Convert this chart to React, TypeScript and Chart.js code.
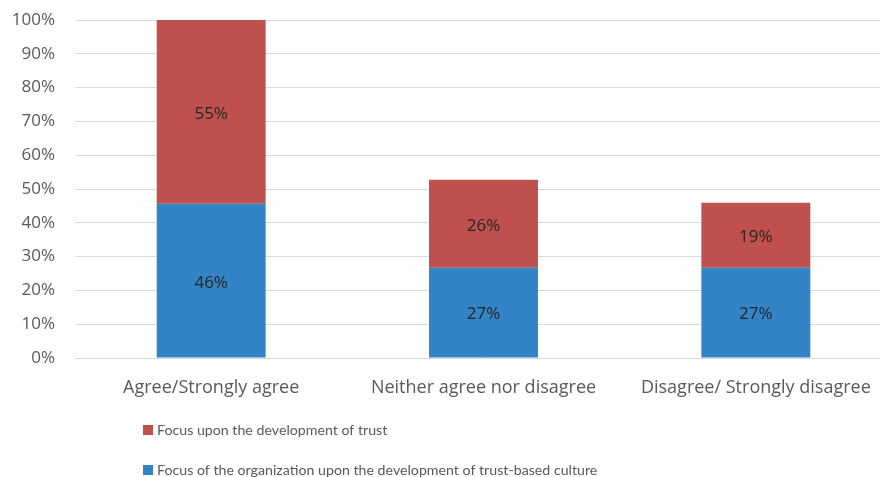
import React, { useEffect, useRef } from "react";
import { Chart, registerables } from "chart.js";

Chart.register(...registerables);

const categories = ["Agree/Strongly agree", "Neither agree nor disagree", "Disagree/ Strongly disagree"];
const cultureValues = [45.6, 26.7, 26.7];
const trustValues = [54.4, 26.0, 19.2];
const cultureLabels = ["46%", "27%", "27%"];
const trustLabels = ["55%", "26%", "19%"];
const yTicks = [0, 10, 20, 30, 40, 50, 60, 70, 80, 90, 100];
const trustName = "Focus upon the development of trust";
const cultureName = "Focus of the organization upon the development of trust-based culture";

const RED = "#C0504D";
const BLUE = "#3284C6";
const FONT = "'Open Sans', sans-serif";
const LEGEND_FONT = "Lato, sans-serif";

const segmentLabels = {
  id: "segmentLabels",
  afterDatasetsDraw(chart: any) {
    const ctx = chart.ctx;
    ctx.save();
    ctx.font = `17px ${FONT}`;
    ctx.fillStyle = "#262626";
    ctx.textAlign = "center";
    ctx.textBaseline = "middle";
    chart.data.datasets.forEach((ds: any, di: number) => {
      const meta = chart.getDatasetMeta(di);
      meta.data.forEach((bar: any, i: number) => {
        const y = (bar.y + bar.base) / 2 + 2;
        ctx.fillText(ds.segmentText[i], bar.x, y);
      });
    });
    ctx.restore();
  },
};

const customLegend = {
  id: "customLegend",
  afterDraw(chart: any) {
    const ctx = chart.ctx;
    ctx.save();
    const items = [
      { name: trustName, color: RED, y: 430 },
      { name: cultureName, color: BLUE, y: 470 },
    ];
    items.forEach((it) => {
      ctx.fillStyle = it.color;
      ctx.fillRect(143, it.y - 5, 10, 10);
      ctx.fillStyle = "#595959";
      ctx.font = `14.2px ${LEGEND_FONT}`;
      ctx.textAlign = "left";
      ctx.textBaseline = "middle";
      ctx.fillText(it.name, 157, it.y);
    });
    ctx.restore();
  },
};

export default function App() {
  const ref = useRef<HTMLCanvasElement>(null);
  useEffect(() => {
    document.body.style.margin = "0";
    document.body.style.overflow = "hidden";
    const chart = new Chart(ref.current!, {
      type: "bar",
      data: {
        labels: categories,
        datasets: [
          {
            label: cultureName,
            data: cultureValues,
            backgroundColor: BLUE,
            segmentText: cultureLabels,
            barPercentage: 0.4,
            categoryPercentage: 1,
          } as any,
          {
            label: trustName,
            data: trustValues,
            backgroundColor: RED,
            segmentText: trustLabels,
            barPercentage: 0.4,
            categoryPercentage: 1,
          } as any,
        ],
      },
      options: {
        animation: false,
        responsive: false,
        maintainAspectRatio: false,
        layout: { padding: { top: 20, right: 8, bottom: 74, left: 0 } },
        plugins: { legend: { display: false }, tooltip: { enabled: false } },
        scales: {
          x: {
            stacked: true,
            grid: { display: false },
            border: { display: false },
            afterFit: (scale: any) => {
              scale.height = 45;
            },
            ticks: { color: "#595959", font: { family: FONT, size: 18 }, padding: 11 },
          },
          y: {
            stacked: true,
            min: 0,
            max: 100,
            afterBuildTicks: (scale: any) => {
              scale.ticks = yTicks.map((v) => ({ value: v }));
            },
            afterFit: (scale: any) => {
              scale.width = 75;
              scale.paddingTop = 0;
              scale.paddingBottom = 0;
            },
            grid: { color: "#D9D9D9", lineWidth: 1, drawTicks: false },
            border: { display: false },
            ticks: {
              color: "#595959",
              font: { family: FONT, size: 17 },
              padding: 20,
              callback: (v: any) => `${v}%`,
            },
          },
        },
      },
      plugins: [segmentLabels, customLegend],
    });
    return () => chart.destroy();
  }, []);
  return (
    <div style={{ position: "absolute", left: 0, top: 0, width: 880, height: 477, overflow: "hidden" }}>
      <canvas ref={ref} width={900} height={477} style={{ display: "block" }} />
    </div>
  );
}
